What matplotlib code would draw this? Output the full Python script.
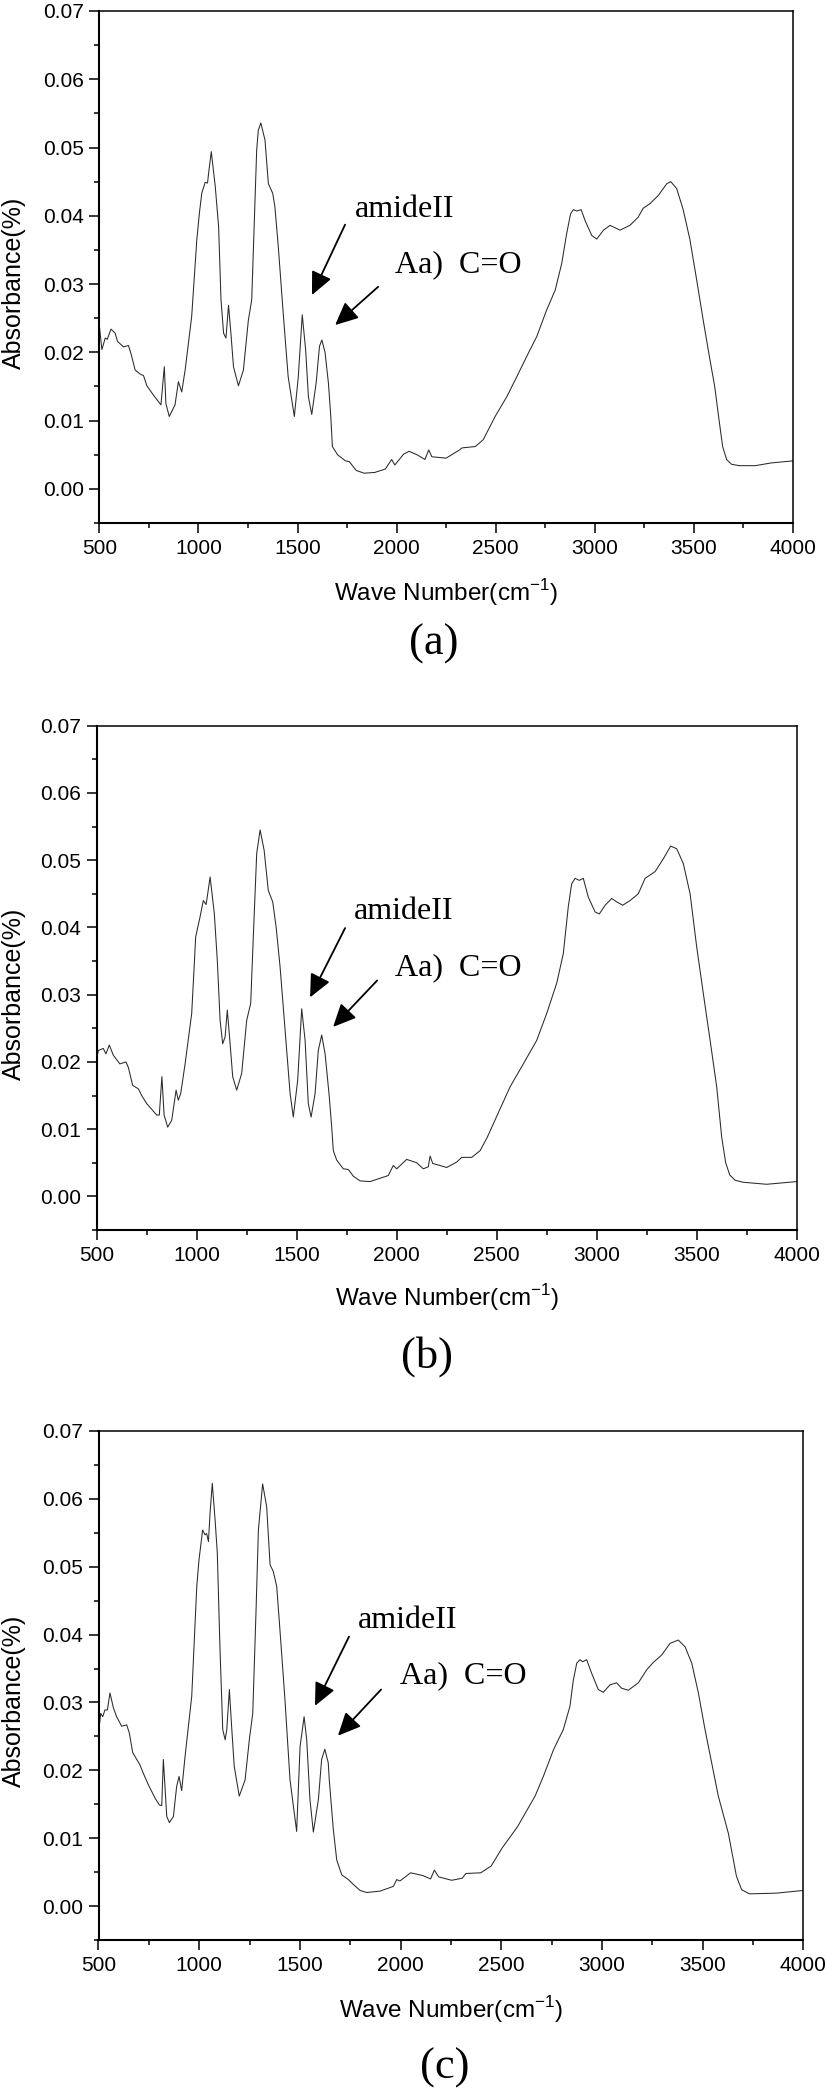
import matplotlib
matplotlib.use("Agg")
import matplotlib.pyplot as plt
from matplotlib.ticker import MultipleLocator

# ---- spectrum (a) ----
wn_a = [500, 513, 530, 540, 559, 580, 592, 622, 647, 659, 681, 707, 723, 740, 774, 811, 828, 836,
        853, 882, 899, 916, 933, 966, 992, 1005, 1017, 1034, 1046, 1053, 1065, 1085, 1102, 1114,
        1127, 1139, 1152, 1164, 1177, 1202, 1227, 1252, 1269, 1280, 1294, 1302, 1315, 1336, 1353,
        1375, 1386, 1403, 1428, 1453, 1484, 1504, 1524, 1541, 1555, 1572, 1594, 1611, 1623, 1639,
        1656, 1668, 1676, 1702, 1742, 1761, 1796, 1836, 1889, 1943, 1975, 1991, 2036, 2063, 2103,
        2143, 2162, 2178, 2250, 2317, 2330, 2397, 2437, 2497, 2556, 2606, 2665, 2707, 2757, 2800,
        2833, 2858, 2878, 2892, 2909, 2931, 2951, 2985, 3010, 3044, 3077, 3127, 3177, 3219, 3244,
        3279, 3321, 3363, 3383, 3413, 3446, 3480, 3514, 3547, 3581, 3605, 3625, 3645, 3665, 3690,
        3730, 3810, 3890, 4000]
abs_a = [0.0240, 0.0204, 0.0221, 0.0219, 0.0234, 0.0228, 0.0216, 0.0208, 0.0210, 0.0199, 0.0174,
         0.0168, 0.0166, 0.0151, 0.0137, 0.0123, 0.0179, 0.0125, 0.0106, 0.0123, 0.0157, 0.0142,
         0.0174, 0.0252, 0.0365, 0.0404, 0.0433, 0.0449, 0.0448, 0.0466, 0.0494, 0.0443, 0.0384,
         0.0277, 0.0228, 0.0221, 0.0269, 0.0228, 0.0179, 0.0151, 0.0174, 0.0247, 0.0277, 0.0374,
         0.0496, 0.0525, 0.0536, 0.0511, 0.0447, 0.0433, 0.0413, 0.0355, 0.0257, 0.0164, 0.0106,
         0.0164, 0.0255, 0.0204, 0.0135, 0.0109, 0.0155, 0.0209, 0.0218, 0.0200, 0.0155, 0.0106,
         0.0062, 0.0050, 0.0041, 0.0040, 0.0027, 0.0023, 0.0024, 0.0029, 0.0043, 0.0035, 0.0051,
         0.0055, 0.0050, 0.0043, 0.0057, 0.0047, 0.0045, 0.0057, 0.0060, 0.0062, 0.0072, 0.0106,
         0.0135, 0.0164, 0.0199, 0.0223, 0.0262, 0.0291, 0.0330, 0.0374, 0.0403, 0.0409, 0.0407,
         0.0409, 0.0393, 0.0371, 0.0366, 0.0379, 0.0386, 0.0379, 0.0386, 0.0398, 0.0411, 0.0418,
         0.0430, 0.0447, 0.0450, 0.0440, 0.0409, 0.0365, 0.0306, 0.0247, 0.0189, 0.0150, 0.0105,
         0.0062, 0.0043, 0.0036, 0.0034, 0.0034, 0.0038, 0.0041]

# ---- spectrum (b) ----
wn_b = [500, 508, 533, 546, 563, 583, 616, 646, 658, 680, 708, 725, 750, 800, 813, 826, 837, 855,
        875, 897, 908, 920, 942, 975, 995, 1017, 1033, 1047, 1055, 1067, 1088, 1103, 1117, 1130,
        1142, 1153, 1167, 1180, 1200, 1225, 1250, 1270, 1283, 1300, 1317, 1337, 1358, 1380, 1397,
        1417, 1442, 1467, 1483, 1505, 1525, 1542, 1558, 1572, 1592, 1608, 1625, 1642, 1663, 1675,
        1683, 1700, 1733, 1758, 1783, 1817, 1867, 1958, 1983, 2000, 2050, 2100, 2133, 2158, 2167,
        2180, 2250, 2300, 2325, 2375, 2417, 2453, 2500, 2567, 2633, 2700, 2750, 2800, 2833, 2858,
        2875, 2892, 2913, 2933, 2958, 2992, 3013, 3042, 3075, 3100, 3130, 3167, 3208, 3242, 3292,
        3333, 3370, 3400, 3433, 3467, 3500, 3533, 3567, 3600, 3625, 3645, 3665, 3692, 3733, 3850,
        4000]
abs_b = [0.0205, 0.0217, 0.0220, 0.0212, 0.0225, 0.0210, 0.0197, 0.0200, 0.0192, 0.0165, 0.0160,
         0.0150, 0.0138, 0.0121, 0.0121, 0.0178, 0.0121, 0.0103, 0.0113, 0.0158, 0.0143, 0.0153,
         0.0197, 0.0272, 0.0386, 0.0416, 0.0440, 0.0434, 0.0450, 0.0475, 0.0421, 0.0351, 0.0262,
         0.0227, 0.0237, 0.0277, 0.0227, 0.0178, 0.0158, 0.0183, 0.0262, 0.0287, 0.0386, 0.0510,
         0.0545, 0.0515, 0.0455, 0.0438, 0.0401, 0.0341, 0.0247, 0.0153, 0.0118, 0.0173, 0.0279,
         0.0232, 0.0138, 0.0118, 0.0153, 0.0217, 0.0240, 0.0212, 0.0148, 0.0103, 0.0068, 0.0054,
         0.0041, 0.0040, 0.0030, 0.0023, 0.0022, 0.0031, 0.0046, 0.0041, 0.0055, 0.0050, 0.0041,
         0.0044, 0.0060, 0.0049, 0.0043, 0.0051, 0.0058, 0.0058, 0.0068, 0.0088, 0.0119, 0.0163,
         0.0197, 0.0232, 0.0272, 0.0317, 0.0361, 0.0431, 0.0465, 0.0473, 0.0470, 0.0473, 0.0445,
         0.0423, 0.0420, 0.0433, 0.0443, 0.0438, 0.0433, 0.0440, 0.0450, 0.0473, 0.0483, 0.0502,
         0.0521, 0.0517, 0.0495, 0.0450, 0.0371, 0.0302, 0.0232, 0.0163, 0.0088, 0.0050, 0.0032,
         0.0024, 0.0021, 0.0018, 0.0022]

# ---- spectrum (c) ----
wn_c = [500, 511, 521, 532, 544, 557, 574, 590, 615, 640, 653, 670, 706, 722, 747, 781, 802, 814,
        822, 839, 852, 872, 888, 900, 913, 930, 963, 988, 999, 1017, 1029, 1037, 1046, 1054, 1065,
        1079, 1090, 1103, 1117, 1129, 1137, 1150, 1161, 1174, 1199, 1228, 1249, 1266, 1282, 1294,
        1315, 1335, 1352, 1368, 1385, 1401, 1426, 1451, 1484, 1501, 1521, 1534, 1550, 1567, 1592,
        1608, 1624, 1641, 1646, 1666, 1683, 1708, 1741, 1765, 1799, 1832, 1898, 1964, 1981, 1997,
        2050, 2110, 2149, 2168, 2189, 2254, 2306, 2325, 2398, 2450, 2503, 2581, 2668, 2709, 2759,
        2808, 2841, 2858, 2875, 2891, 2904, 2924, 2949, 2982, 3007, 3040, 3073, 3098, 3131, 3181,
        3222, 3255, 3297, 3338, 3379, 3413, 3446, 3479, 3512, 3545, 3578, 3628, 3668, 3694, 3733,
        3864, 4000]
abs_c = [0.0255, 0.0284, 0.0279, 0.0289, 0.0289, 0.0314, 0.0292, 0.0279, 0.0265, 0.0267, 0.0255,
         0.0226, 0.0208, 0.0196, 0.0179, 0.0159, 0.0149, 0.0148, 0.0216, 0.0132, 0.0123, 0.0132,
         0.0176, 0.0191, 0.0170, 0.0221, 0.0309, 0.0471, 0.0510, 0.0554, 0.0547, 0.0549, 0.0537,
         0.0579, 0.0623, 0.0569, 0.0520, 0.0382, 0.0260, 0.0245, 0.0260, 0.0319, 0.0265, 0.0206,
         0.0162, 0.0186, 0.0245, 0.0284, 0.0432, 0.0554, 0.0622, 0.0589, 0.0503, 0.0493, 0.0471,
         0.0407, 0.0304, 0.0186, 0.0110, 0.0235, 0.0279, 0.0245, 0.0157, 0.0109, 0.0157, 0.0216,
         0.0231, 0.0211, 0.0186, 0.0113, 0.0068, 0.0046, 0.0039, 0.0032, 0.0023, 0.0020, 0.0022,
         0.0029, 0.0039, 0.0037, 0.0049, 0.0045, 0.0040, 0.0053, 0.0043, 0.0038, 0.0041, 0.0048,
         0.0049, 0.0059, 0.0085, 0.0117, 0.0162, 0.0191, 0.0230, 0.0260, 0.0294, 0.0333, 0.0358,
         0.0363, 0.0360, 0.0363, 0.0343, 0.0319, 0.0315, 0.0326, 0.0329, 0.0321, 0.0318, 0.0329,
         0.0348, 0.0359, 0.0370, 0.0387, 0.0392, 0.0382, 0.0358, 0.0314, 0.0260, 0.0211, 0.0162,
         0.0107, 0.0044, 0.0024, 0.0018, 0.0019, 0.0023]

captions = ["(a)", "(b)", "(c)"]

W, H = 827, 2091

def fx(px):
    return px / W

def fy(py):
    return 1 - py / H

fig = plt.figure(figsize=(W / 100, H / 100), dpi=100, facecolor="white")

# pixel boxes of the three axes: left, right, top, bottom
boxes = [(99.3, 793.0, 11.0, 523.0),
         (96.7, 796.7, 725.7, 1230.0),
         (98.5, 803.3, 1431.0, 1940.0)]
# annotation positions (data coords): amide text, C=O text, arrow1 tail/tip, arrow2 tail/tip
notes = [((1790, 0.0398), (1992, 0.0318), (1740, 0.0387), (1573, 0.0284), (1907, 0.0296), (1690, 0.0240)),
         ((1787, 0.0412), (1992, 0.0329), (1742, 0.0399), (1567, 0.0296), (1902, 0.0321), (1682, 0.0252)),
         ((1789, 0.0410), (1997, 0.0329), (1744, 0.0397), (1575, 0.0295), (1903, 0.0319), (1689, 0.0251))]
ylab_y = [283, 994, 1701]
xlab_y = [593, 1298, 2010]
cap_pos = [(434, 644), (427, 1357), (445, 2068)]

series = [(wn_a, abs_a), (wn_b, abs_b), (wn_c, abs_c)]

sans = "Liberation Sans"
serif = "Liberation Serif"

for i in range(3):
    l, r, t, b = boxes[i]
    ax = fig.add_axes([fx(l), fy(b), (r - l) / W, (b - t) / H])
    wn, ab = series[i]
    ax.plot(wn, ab, color="#2a2a2a", lw=0.75)
    ax.set_xlim(500, 4000)
    ax.set_ylim(-0.005, 0.07)
    ax.xaxis.set_major_locator(MultipleLocator(500))
    ax.xaxis.set_minor_locator(MultipleLocator(250))
    ax.yaxis.set_major_locator(MultipleLocator(0.01))
    ax.yaxis.set_minor_locator(MultipleLocator(0.005))
    ax.yaxis.set_major_formatter(matplotlib.ticker.FormatStrFormatter("%.2f"))
    ax.tick_params(which="major", direction="out", length=7.2, width=1.1, labelsize=15, pad=4)
    ax.tick_params(which="minor", direction="out", length=3.6, width=1.1)
    ax.tick_params(top=False, right=False, which="both")
    for lab in ax.get_xticklabels() + ax.get_yticklabels():
        lab.set_family(sans)
    for s in ["left", "bottom"]:
        ax.spines[s].set_linewidth(1.5)
    for s in ["top", "right"]:
        ax.spines[s].set_linewidth(1.1)

    amide, cco, t1, h1, t2, h2 = notes[i]
    ax.text(amide[0], amide[1], "amideII", family=serif, fontsize=23, va="baseline", ha="left")
    ax.text(cco[0], cco[1], "Aa)  C=O", family=serif, fontsize=23, va="baseline", ha="left")
    for tail, tip in [(t1, h1), (t2, h2)]:
        ax.annotate("", xy=tip, xytext=tail,
                    arrowprops=dict(arrowstyle="-|>,head_length=1.4,head_width=0.65",
                                    mutation_scale=10, lw=1.3, color="k",
                                    shrinkA=0, shrinkB=0))

    fig.text(fx(14), fy(ylab_y[i]), "Absorbance(%)", family=sans, fontsize=18,
             rotation=90, ha="center", va="center")
    fig.text(fx((l + r) / 2), fy(xlab_y[i]), r"Wave Number(cm$^{\mathregular{-1}}$)",
             family=sans, fontsize=17.5, ha="center", va="center")
    fig.text(fx(cap_pos[i][0]), fy(cap_pos[i][1]), captions[i], family=serif, fontsize=32,
             ha="center", va="center")

fig.savefig("out.png", dpi=100, facecolor="white")
